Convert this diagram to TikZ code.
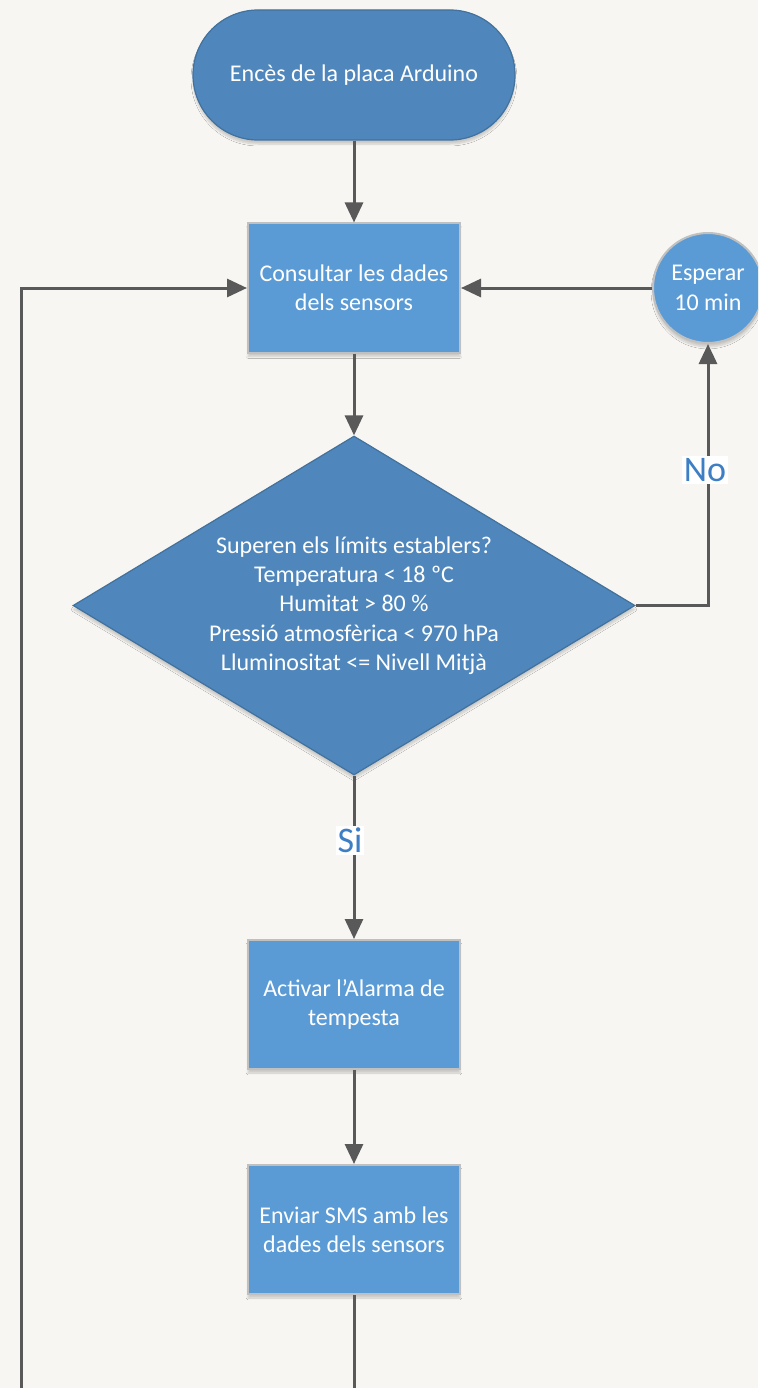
\documentclass[tikz,border=0pt]{standalone}
\usepackage{fontspec}
\setmainfont{Carlito}
\usetikzlibrary{shapes.geometric,arrows.meta,shadows.blur}
\definecolor{paper}{HTML}{F8F6F2}
\definecolor{darkfill}{HTML}{4F87BD}
\definecolor{darkedge}{HTML}{41719C}
\definecolor{boxfill}{HTML}{5B9BD5}
\definecolor{boxedge}{HTML}{C0C0C0}
\definecolor{conn}{HTML}{595959}
\definecolor{lbl}{HTML}{3D7EC4}
\tikzset{
  txt/.style={text=white, font=\fontsize{24}{29.3}\selectfont, align=center},
  shade/.style={blur shadow={shadow xshift=0pt, shadow yshift=-4pt, shadow blur steps=6, shadow opacity=18, shadow scale=1.0}},
  term/.style={txt, shade, draw=darkedge, line width=1.2pt, fill=darkfill, rectangle, rounded corners=65pt, minimum width=322pt, minimum height=130pt, inner sep=0pt},
  procbox/.style={txt, shade, draw=boxedge, line width=2pt, fill=boxfill, rectangle, minimum width=212pt, minimum height=129pt, inner sep=0pt},
  waitcirc/.style={txt, shade, draw=boxedge, line width=2pt, fill=boxfill, circle, minimum size=110pt, inner sep=0pt},
  decide/.style={txt, shade, draw=darkedge, line width=1.2pt, fill=darkfill, diamond, aspect=1.658, minimum width=562pt, minimum height=339pt, inner sep=0pt},
  conn/.style={draw=conn, line width=3pt, -{Triangle[length=20pt,width=18pt]}},
  edgelbl/.style={fill=white, text=lbl, font=\fontsize{36}{40}\selectfont, inner sep=2pt}
}
\begin{document}
\begin{tikzpicture}[x=1pt,y=-1pt]
\useasboundingbox (0,0) rectangle (758,1388);
\clip (0,0) rectangle (758,1388);
\fill[paper] (0,0) rectangle (758,1388);

\node[term] (start) at (354,75) {Encès de la placa Arduino};
\node[procbox] (read) at (354,288) {Consultar les dades\\dels sensors};
\node[waitcirc] (wait) at (708,288) {Esperar\\10 min};
\node[decide] (check) at (354,605.5) {Superen els límits establers?\\Temperatura < 18 ºC\\Humitat > 80 \%\\Pressió atmosfèrica < 970 hPa\\Lluminositat <= Nivell Mitjà};
\node[procbox] (alarm) at (354,1004.5) {Activar l'Alarma de\\tempesta};
\node[procbox] (sms) at (354,1229.5) {Enviar SMS amb les\\dades dels sensors};

\coordinate (bottomA) at (354,1400);
\coordinate (bottomB) at (21,1400);
\coordinate (leftTop) at (21,288);
\coordinate (noCorner) at (708,605.5);

\draw[conn] (start.south) -- (read.north);
\draw[conn] (wait.west) -- (read.east);
\draw[conn] (read.south) -- (check.north);
\draw[conn] (check.east) -- (noCorner) -- (wait.south);
\draw[conn] (check.south) -- (alarm.north);
\draw[conn] (alarm.south) -- (sms.north);
\draw[conn] (sms.south) -- (bottomA) -- (bottomB) -- (leftTop) -- (read.west);

\node[edgelbl] (nolbl) at (705,470) {No};
\node[edgelbl] (silbl) at (350,840) {Si};
\end{tikzpicture}
\end{document}
